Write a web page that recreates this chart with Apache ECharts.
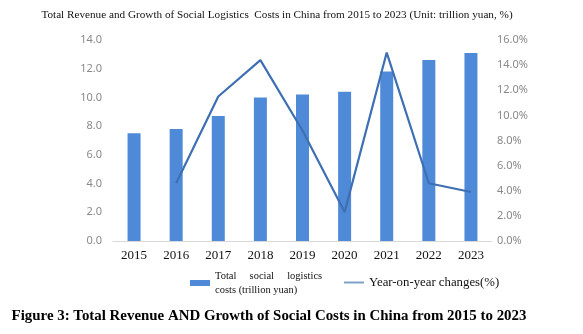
<!DOCTYPE html>
<html><head><meta charset="utf-8">
<script src="https://cdn.jsdelivr.net/npm/echarts@6/dist/echarts.min.js"></script>
<style>html,body{margin:0;padding:0;background:#fff}#c{width:583px;height:334px}</style>
</head><body><div id="c"></div>
<script>
const years = ['2015','2016','2017','2018','2019','2020','2021','2022','2023'];
const totalCosts = [7.5, 7.8, 8.7, 10.0, 10.2, 10.4, 11.8, 12.6, 13.1];
const yoyChange = [null, 4.6, 11.5, 14.4, 8.8, 2.3, 15.0, 4.6, 3.9];
const leftTicks = [0, 14, 2];
const rightTicks = [0, 16, 2];
const barName = 'Total social logistics costs (trillion yuan)';
const lineName = 'Year-on-year changes(%)';

const chart = echarts.init(document.getElementById('c'));
chart.setOption({
  animation: false,
  title: [
    {text: 'Total Revenue and Growth of Social Logistics  Costs in China from 2015 to 2023 (Unit: trillion yuan, %)',
     left: 272, textAlign: 'center', top: 5,
     textStyle: {fontFamily: 'Liberation Serif', fontSize: 11.2, fontWeight: 'normal', color: '#111'}},
    {text: 'Figure 3: Total Revenue AND Growth of Social Costs in China from 2015 to 2023',
     left: 264, textAlign: 'center', top: 304,
     textStyle: {fontFamily: 'Liberation Serif', fontSize: 14.9, fontWeight: 'bold', color: '#000'}}
  ],
  grid: {left: 113, right: 91, top: 40, bottom: 93},
  legend: [
    {left: 185, top: 264, itemWidth: 20, itemHeight: 6, icon: 'rect',
     data: [barName],
     formatter: () => 'Total     social     logistics\ncosts (trillion yuan)',
     textStyle: {fontFamily: 'Liberation Serif', color: '#111', fontSize: 10.5, lineHeight: 14}},
    {left: 339, top: 271, itemWidth: 20, itemHeight: 2, icon: 'rect', itemGap: 8,
     data: [lineName],
     textStyle: {fontFamily: 'Liberation Serif', color: '#111', fontSize: 12.8}}
  ],
  xAxis: {
    type: 'category', data: years,
    axisLine: {lineStyle: {color: '#d9d9d9'}},
    axisTick: {show: false},
    axisLabel: {fontFamily: 'Liberation Serif', fontSize: 13, color: '#111', margin: 8}
  },
  yAxis: [
    {type: 'value', min: leftTicks[0], max: leftTicks[1], interval: leftTicks[2],
     splitLine: {show: false}, axisLine: {show: false}, axisTick: {show: false},
     axisLabel: {formatter: v => v.toFixed(1), fontFamily: 'Noto Sans', fontSize: 11, color: '#8a8a8a', margin: 11}},
    {type: 'value', min: rightTicks[0], max: rightTicks[1], interval: rightTicks[2],
     splitLine: {show: false}, axisLine: {show: false}, axisTick: {show: false},
     axisLabel: {formatter: v => v.toFixed(1) + '%', fontFamily: 'Noto Sans', fontSize: 11, color: '#8a8a8a', margin: 5}}
  ],
  series: [
    {name: barName, type: 'bar', data: totalCosts, barWidth: 13,
     itemStyle: {color: '#4f8ad9'}},
    {name: lineName, type: 'line', yAxisIndex: 1, data: yoyChange, symbol: 'none',
     lineStyle: {color: '#3f6fb3', width: 2.2}, itemStyle: {color: '#7fa0c8'}}
  ]
});
</script></body></html>
